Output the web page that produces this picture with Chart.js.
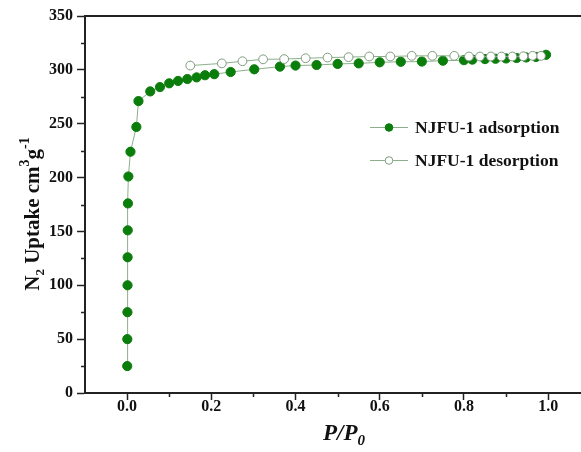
<!DOCTYPE html>
<html>
<head>
<meta charset="utf-8">
<script src="https://cdn.jsdelivr.net/npm/chart.js@4.4.1/dist/chart.umd.min.js"></script>
<style>
  html, body { margin: 0; padding: 0; background: #fff; }
</style>
</head>
<body>
<canvas id="grafico" width="581" height="452"></canvas>
<script>
// N2 isotherm
const adsP = [0.0003, 0.0005, 0.0008, 0.001, 0.0012, 0.0015, 0.002, 0.003, 0.008, 0.022, 0.027,
  0.055, 0.078, 0.1, 0.121, 0.143, 0.165, 0.185, 0.207, 0.246, 0.302, 0.363, 0.4, 0.45, 0.5,
  0.55, 0.6, 0.65, 0.7, 0.75, 0.8, 0.82, 0.85, 0.875, 0.9, 0.925, 0.948, 0.971, 0.995];
const adsN2 = [25, 50, 75, 100, 126, 151, 176, 201, 224, 247, 271,
  280, 284, 287.5, 289.7, 291.5, 293, 295, 296, 298, 300.5, 303, 304, 304.5, 305.5,
  306, 307, 307.5, 307.7, 308.5, 309, 309.5, 310, 310.3, 310.6, 311, 311.5, 312, 314];

const desP = [0.983, 0.963, 0.941, 0.915, 0.889, 0.864, 0.838, 0.812, 0.777, 0.725, 0.676,
  0.625, 0.575, 0.526, 0.476, 0.424, 0.373, 0.323, 0.274, 0.225, 0.15];
const desN2 = [313, 313, 312.6, 312.4, 312.4, 312.4, 312.4, 312.4, 313, 313, 313,
  312.4, 312.4, 311.8, 311.4, 310.8, 310, 309.8, 308, 306, 304];

const xTicks = [0, 0.2, 0.4, 0.6, 0.8, 1.0];
const xMinor = [0.1, 0.3, 0.5, 0.7, 0.9];
const yTicks = [0, 50, 100, 150, 200, 250, 300, 350];
const yMinor = [25, 75, 125, 175, 225, 275, 325];

const verde = '#0a7d0a';
const linea = '#8caf8c';
const abierto = '#7f9a7f';
const eje = '#222';
const serif = '"Liberation Serif", "Times New Roman", serif';

const aPuntos = (xs, ys) => xs.map((x, i) => ({ x: x, y: ys[i] }));

// minor ticks, axis titles and the legend
const extras = {
  id: 'extras',
  afterDraw(chart) {
    const ctx = chart.ctx;
    const xs = chart.scales.x, ys = chart.scales.y;
    const area = chart.chartArea;
    ctx.save();
    ctx.strokeStyle = eje;
    ctx.lineWidth = 1.5;
    ctx.beginPath();
    for (let v of xMinor) {
      let px = Math.round(xs.getPixelForValue(v)) + 0.5;
      ctx.moveTo(px, area.bottom);
      ctx.lineTo(px, area.bottom + 4);
    }
    for (let v of yMinor) {
      let py = Math.round(ys.getPixelForValue(v)) + 0.5;
      ctx.moveTo(area.left, py);
      ctx.lineTo(area.left - 4, py);
    }
    ctx.stroke();

    // y title
    ctx.fillStyle = '#111';
    ctx.textBaseline = 'alphabetic';
    const partesY = [
      { t: 'N', f: 'bold 21px ' + serif, dy: 0 },
      { t: '2', f: 'bold 13px ' + serif, dy: 5 },
      { t: ' Uptake cm', f: 'bold 21px ' + serif, dy: 0 },
      { t: '3', f: 'bold 14px ' + serif, dy: -10 },
      { t: 'g', f: 'bold 21px ' + serif, dy: 0 },
      { t: '-1', f: 'bold 14px ' + serif, dy: -10 }
    ];
    let total = 0;
    for (let p of partesY) { ctx.font = p.f; total += ctx.measureText(p.t).width; }
    ctx.translate(39, 214);
    ctx.rotate(-Math.PI / 2);
    let cx = -total / 2;
    for (let p of partesY) {
      ctx.font = p.f;
      ctx.fillText(p.t, cx, p.dy);
      cx += ctx.measureText(p.t).width;
    }
    ctx.setTransform(1, 0, 0, 1, 0, 0);

    // x title
    const partesX = [
      { t: 'P/P', f: 'italic bold 23px ' + serif, dy: 0 },
      { t: '0', f: 'italic bold 15px ' + serif, dy: 5 }
    ];
    total = 0;
    for (let p of partesX) { ctx.font = p.f; total += ctx.measureText(p.t).width; }
    cx = 344 - total / 2;
    for (let p of partesX) {
      ctx.font = p.f;
      ctx.fillText(p.t, cx, 440 + p.dy);
      cx += ctx.measureText(p.t).width;
    }

    // legend
    const leyenda = [
      { t: 'NJFU-1 adsorption', y: 127, relleno: verde, borde: verde },
      { t: 'NJFU-1 desorption', y: 160, relleno: '#fff', borde: abierto }
    ];
    for (let l of leyenda) {
      ctx.strokeStyle = linea;
      ctx.lineWidth = 1;
      ctx.beginPath();
      ctx.moveTo(370, l.y + 0.5);
      ctx.lineTo(408, l.y + 0.5);
      ctx.stroke();
      ctx.beginPath();
      ctx.arc(389, l.y + 0.5, 3.8, 0, Math.PI * 2);
      ctx.fillStyle = l.relleno;
      ctx.fill();
      ctx.strokeStyle = l.borde;
      ctx.stroke();
      ctx.fillStyle = '#111';
      ctx.font = 'bold 17.5px ' + serif;
      ctx.textBaseline = 'middle';
      ctx.fillText(l.t, 415, l.y + 1);
    }
    ctx.restore();
  }
};

new Chart(document.getElementById('grafico'), {
  type: 'scatter',
  data: {
    datasets: [
      {
        label: 'NJFU-1 adsorption',
        data: aPuntos(adsP, adsN2),
        showLine: true,
        borderColor: linea,
        borderWidth: 1,
        pointRadius: 4.6,
        pointBackgroundColor: verde,
        pointBorderColor: verde,
        pointBorderWidth: 1,
        order: 1
      },
      {
        label: 'NJFU-1 desorption',
        data: aPuntos(desP, desN2),
        showLine: true,
        borderColor: linea,
        borderWidth: 1,
        pointRadius: 4.4,
        pointBackgroundColor: '#fff',
        pointBorderColor: abierto,
        pointBorderWidth: 1,
        order: 0
      }
    ]
  },
  options: {
    responsive: false,
    animation: false,
    layout: { padding: 0, autoPadding: false },
    plugins: {
      legend: { display: false },
      tooltip: { enabled: false }
    },
    scales: {
      x: {
        type: 'linear',
        position: 'bottom',
        min: -0.1,
        max: 1.078,
        afterBuildTicks: s => { s.ticks = xTicks.map(v => ({ value: v })); },
        afterFit: s => { s.height = 59; s.paddingLeft = 0; s.paddingRight = 0; },
        border: { display: true, color: eje, width: 2 },
        grid: { drawOnChartArea: false, drawTicks: true, tickLength: 7, tickColor: eje, tickWidth: 1.5 },
        ticks: {
          padding: -3,
          color: '#111',
          font: { family: serif, size: 16, weight: 'bold' },
          callback: v => v.toFixed(1)
        }
      },
      x2: {
        type: 'linear',
        position: 'top',
        min: -0.1,
        max: 1.078,
        afterFit: s => { s.height = 16; s.paddingLeft = 0; s.paddingRight = 0; },
        border: { display: true, color: eje, width: 2 },
        grid: { display: false },
        ticks: { display: false }
      },
      y: {
        type: 'linear',
        min: 0,
        max: 350,
        afterBuildTicks: s => { s.ticks = yTicks.map(v => ({ value: v })); },
        afterFit: s => { s.width = 85; s.paddingTop = 0; s.paddingBottom = 0; },
        border: { display: true, color: eje, width: 2 },
        grid: { drawOnChartArea: false, drawTicks: true, tickLength: 8, tickColor: eje, tickWidth: 1.5 },
        ticks: {
          padding: 4,
          color: '#111',
          font: { family: serif, size: 16, weight: 'bold' }
        }
      }
    }
  },
  plugins: [extras]
});
</script>
</body>
</html>
